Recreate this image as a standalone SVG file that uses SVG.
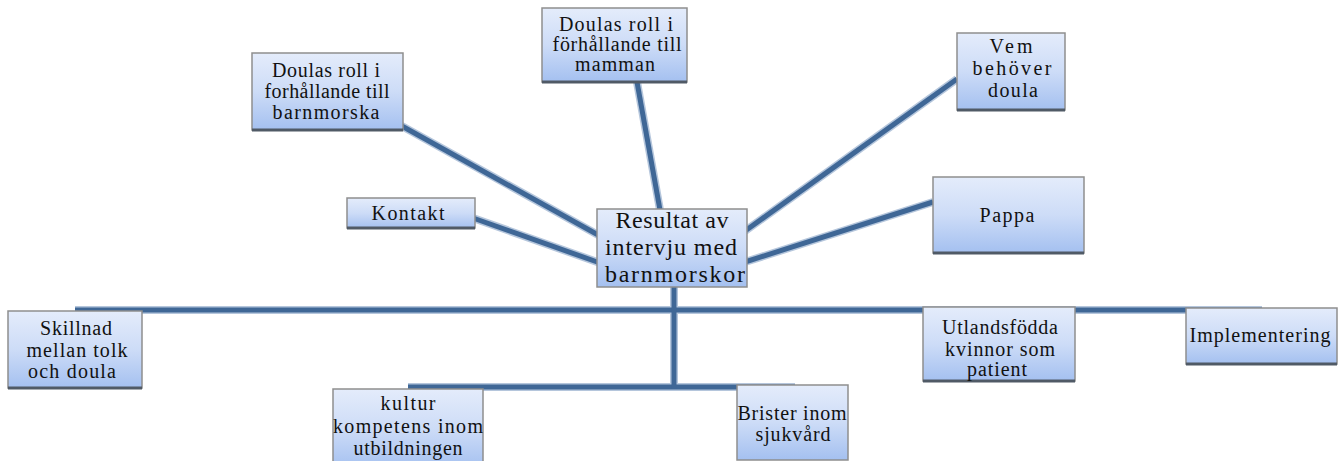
<svg xmlns="http://www.w3.org/2000/svg" width="1344" height="461" viewBox="0 0 1344 461">
  <defs>
    <linearGradient id="boxFill" x1="0" y1="0" x2="0" y2="1">
      <stop offset="0" stop-color="#e4ecfb"/>
      <stop offset="0.5" stop-color="#cddcf7"/>
      <stop offset="1" stop-color="#a4c0f0"/>
    </linearGradient>
  </defs>
  <style>
    .box { fill: url(#boxFill); stroke: #8e8e8e; stroke-width: 1.5; }
    .shadow { stroke: #505a66; stroke-width: 3; }
    .t { font-family: "Liberation Serif", "Times New Roman", serif; font-size: 20px; fill: #111; text-anchor: middle; }
    .tc { font-family: "Liberation Serif", "Times New Roman", serif; font-size: 24px; fill: #111; text-anchor: middle; }
    .lnBg { stroke: #b5c6dc; stroke-width: 8; fill: none; stroke-linecap: butt; }
    .ln { stroke: #3f6796; stroke-width: 5; fill: none; stroke-linecap: butt; }
  </style>
  <rect width="1344" height="461" fill="#ffffff"/>

  <g id="connectors">
    <g class="lnBg">
      <line x1="400" y1="125" x2="600" y2="236"/>
      <line x1="473" y1="218" x2="600" y2="263"/>
      <line x1="637" y1="82" x2="660" y2="210"/>
      <line x1="957" y1="79" x2="745" y2="231"/>
      <line x1="933" y1="202" x2="745" y2="262"/>
      <line x1="75" y1="310" x2="1262" y2="310"/>
      <line x1="408" y1="387" x2="795" y2="387"/>
      <line x1="674" y1="287" x2="674" y2="389"/>
    </g>
    <g class="ln">
      <line x1="400" y1="125" x2="600" y2="236"/>
      <line x1="473" y1="218" x2="600" y2="263"/>
      <line x1="637" y1="82" x2="660" y2="210"/>
      <line x1="957" y1="79" x2="745" y2="231"/>
      <line x1="933" y1="202" x2="745" y2="262"/>
      <line x1="75" y1="310" x2="1262" y2="310"/>
      <line x1="408" y1="387" x2="795" y2="387"/>
      <line x1="674" y1="287" x2="674" y2="389"/>
    </g>
  </g>

  <g id="node-barnmorska">
    <rect class="box" x="252" y="53" width="151" height="77"/>
    <line class="shadow" x1="252" y1="130" x2="403" y2="130"/>
    <text class="t" x="326" y="77" textLength="108" lengthAdjust="spacing">Doulas roll i</text>
    <text class="t" x="327" y="98" textLength="125" lengthAdjust="spacing">forhållande till</text>
    <text class="t" x="326" y="119" textLength="107" lengthAdjust="spacing">barnmorska</text>
  </g>

  <g id="node-mamman">
    <rect class="box" x="542" y="8" width="145" height="74"/>
    <line class="shadow" x1="542" y1="82" x2="687" y2="82"/>
    <text class="t" x="616" y="31" textLength="114" lengthAdjust="spacing">Doulas roll i</text>
    <text class="t" x="617" y="51" textLength="129" lengthAdjust="spacing">förhållande till</text>
    <text class="t" x="615" y="71" textLength="80" lengthAdjust="spacing">mamman</text>
  </g>

  <g id="node-vem">
    <rect class="box" x="957" y="33" width="108" height="77"/>
    <line class="shadow" x1="957" y1="110" x2="1065" y2="110"/>
    <text class="t" x="1011" y="53" textLength="43" lengthAdjust="spacing">Vem</text>
    <text class="t" x="1012" y="75" textLength="79" lengthAdjust="spacing">behöver</text>
    <text class="t" x="1013" y="97" textLength="50" lengthAdjust="spacing">doula</text>
  </g>

  <g id="node-kontakt">
    <rect class="box" x="347" y="198" width="128" height="30"/>
    <line class="shadow" x1="347" y1="228" x2="475" y2="228"/>
    <text class="t" x="408" y="220" textLength="73" lengthAdjust="spacing">Kontakt</text>
  </g>

  <g id="node-pappa">
    <rect class="box" x="933" y="177" width="151" height="76"/>
    <line class="shadow" x1="933" y1="253" x2="1084" y2="253"/>
    <text class="t" x="1007" y="222" textLength="55" lengthAdjust="spacing">Pappa</text>
  </g>

  <g id="node-center">
    <rect class="box" x="597" y="209" width="150" height="78"/>
    <text class="tc" x="672" y="228" textLength="113" lengthAdjust="spacing">Resultat av</text>
    <text class="tc" x="671" y="255" textLength="132" lengthAdjust="spacing">intervju med</text>
    <text class="tc" x="675" y="282" textLength="140" lengthAdjust="spacing">barnmorskor</text>
  </g>

  <g id="node-skillnad">
    <rect class="box" x="8" y="311" width="134" height="77"/>
    <line class="shadow" x1="8" y1="388" x2="142" y2="388"/>
    <text class="t" x="76" y="335" textLength="72" lengthAdjust="spacing">Skillnad</text>
    <text class="t" x="77" y="357" textLength="101" lengthAdjust="spacing">mellan tolk</text>
    <text class="t" x="72" y="378" textLength="88" lengthAdjust="spacing">och doula</text>
  </g>

  <g id="node-utlandsfodda">
    <rect class="box" x="923" y="307" width="152" height="74"/>
    <line class="shadow" x1="923" y1="381" x2="1075" y2="381"/>
    <text class="t" x="1000" y="334" textLength="116" lengthAdjust="spacing">Utlandsfödda</text>
    <text class="t" x="1000" y="356" textLength="110" lengthAdjust="spacing">kvinnor som</text>
    <text class="t" x="997" y="376" textLength="60" lengthAdjust="spacing">patient</text>
  </g>

  <g id="node-implementering">
    <rect class="box" x="1186" y="308" width="151" height="56"/>
    <line class="shadow" x1="1186" y1="364" x2="1337" y2="364"/>
    <text class="t" x="1260" y="342" textLength="141" lengthAdjust="spacing">Implementering</text>
  </g>

  <g id="node-kultur">
    <rect class="box" x="333" y="389" width="150" height="80"/>
    <text class="t" x="408" y="410" textLength="55" lengthAdjust="spacing">kultur</text>
    <text class="t" x="408" y="433" textLength="150" lengthAdjust="spacing">kompetens inom</text>
    <text class="t" x="408" y="455" textLength="109" lengthAdjust="spacing">utbildningen</text>
  </g>

  <g id="node-brister">
    <rect class="box" x="737" y="385" width="111" height="75"/>
    <text class="t" x="792" y="420" textLength="109" lengthAdjust="spacing">Brister inom</text>
    <text class="t" x="793" y="441" textLength="75" lengthAdjust="spacing">sjukvård</text>
  </g>
</svg>
